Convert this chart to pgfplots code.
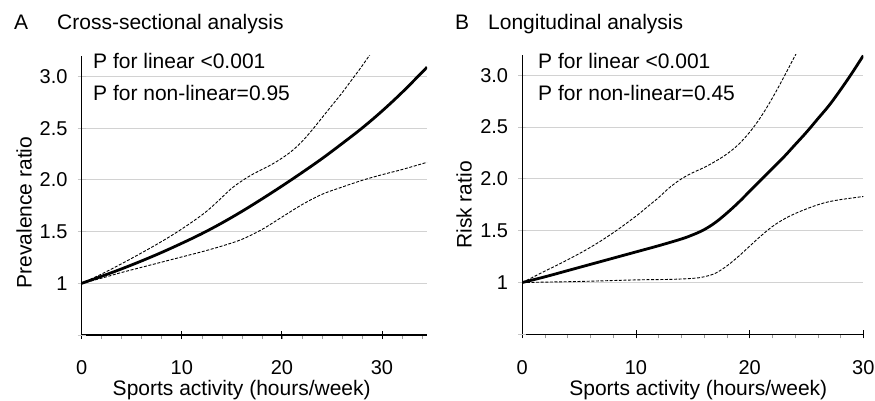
\documentclass[border=0pt]{standalone}
\usepackage{fontspec}
\setmainfont{Liberation Sans}
\usepackage{pgfplots}
\pgfplotsset{compat=1.18}
\pgfplotsset{
  myaxis/.style={
    scale only axis,
    anchor=south west,
    axis lines=left,
    axis line style={line width=1.2pt,-},
    ymin=0.5, ymax=3.2,
    ytick={1,1.5,2,2.5,3},
    yticklabels={1,1.5,2.0,2.5,3.0},
    extra y ticks={0.5}, extra y tick labels={},
    extra y tick style={grid=none},
    ymajorgrids,
    major grid style={gray!35,line width=0.9pt},
    tick align=center,
    major tick length=8pt, minor tick length=4pt,
    tick style={black,line width=0.8pt},
    major y tick style={gray!45},
    minor x tick style={yshift=-2pt, gray!80, line width=0.6pt},
    /pgf/number format/assume math mode=true,
    ticklabel style={font=\fontsize{20}{24}\selectfont},
    xticklabel style={anchor=base, inner sep=0pt, yshift=-35.7pt},
    yticklabel style={anchor=east, inner sep=0pt, xshift=-10pt},
  },
  est/.style={black, line width=2.8pt, smooth, tension=0.6},
  ci/.style={black, line width=0.9pt, dash pattern=on 3pt off 1.6pt, smooth, tension=0.6},
}
\begin{document}
\begin{tikzpicture}
\path[use as bounding box] (0,0) rectangle (875pt,400pt);
\begin{axis}[myaxis, at={(81.7pt,65pt)}, width=345.3pt, height=279.2pt,
  xmin=0, xmax=34.5, xtick={0,10,20,30}, minor xtick={2,4,...,34}]
\addplot[est] coordinates {(0,1.000) (2,1.068) (4,1.140) (6,1.217) (8,1.299) (10,1.387) (12,1.480) (14,1.583) (16,1.695) (18,1.815) (20,1.940) (22,2.070) (24,2.205) (26,2.350) (28,2.500) (30,2.665) (32,2.845) (34,3.040) (34.5,3.090)};
\addplot[ci] coordinates {(0,1.00) (2,1.09) (4,1.19) (6,1.295) (8,1.405) (10,1.525) (12,1.66) (13,1.74) (14,1.83) (15,1.92) (16,1.99) (17,2.05) (18,2.10) (19,2.15) (20,2.21) (21,2.28) (22,2.37) (23,2.48) (24,2.60) (25,2.72) (26,2.84) (27,2.97) (28,3.10) (29,3.24)};
\addplot[ci] coordinates {(0,1.00) (2,1.05) (4,1.105) (6,1.155) (8,1.205) (10,1.255) (12,1.305) (14,1.36) (16,1.425) (18,1.52) (20,1.64) (22,1.76) (24,1.86) (26,1.93) (28,1.995) (30,2.05) (32,2.10) (34.5,2.17)};
\end{axis}
\begin{axis}[myaxis, at={(522.3pt,65.7pt)}, width=341pt, height=279.8pt,
  xmin=0, xmax=30, xtick={0,10,20,30}, minor xtick={2,4,...,28}]
\addplot[est] coordinates {(0,1.000) (2,1.055) (4,1.115) (6,1.175) (8,1.235) (10,1.295) (12,1.355) (14,1.420) (15,1.460) (16,1.510) (17,1.580) (18,1.670) (19,1.770) (20,1.880) (21,1.990) (22,2.100) (23,2.210) (24,2.330) (25,2.450) (26,2.580) (27,2.710) (28,2.860) (29,3.020) (30,3.190)};
\addplot[ci] coordinates {(0,1.00) (2,1.11) (4,1.22) (6,1.34) (8,1.48) (10,1.64) (11,1.73) (12,1.82) (13,1.92) (14,2.00) (15,2.06) (16,2.11) (17,2.17) (18,2.24) (19,2.33) (20,2.45) (21,2.60) (22,2.78) (23,2.98) (24,3.19) (24.2,3.23)};
\addplot[ci] coordinates {(0,1.00) (5,1.01) (10,1.025) (13,1.03) (15,1.04) (16,1.055) (17,1.09) (18,1.16) (19,1.25) (20,1.35) (21,1.45) (22,1.54) (23,1.61) (24,1.665) (25,1.71) (26,1.75) (27,1.78) (28,1.80) (29,1.815) (30,1.83)};
\end{axis}
\tikzset{lab/.style={inner sep=0pt, font=\fontsize{21}{25}\selectfont}}
\node[lab, anchor=base west] at (14pt,370.7pt) {A};
\node[lab, anchor=base west] at (57pt,370.7pt) {Cross-sectional analysis};
\node[lab, anchor=base west] at (455pt,370.7pt) {B};
\node[lab, anchor=base west] at (488pt,370.7pt) {Longitudinal analysis};
\node[lab, anchor=base west] at (93pt,331.7pt) {P for linear <0.001};
\node[lab, anchor=base west] at (93pt,300pt) {P for non-linear=0.95};
\node[lab, anchor=base west] at (538pt,331.7pt) {P for linear <0.001};
\node[lab, anchor=base west] at (538pt,300pt) {P for non-linear=0.45};
\node[lab, anchor=base, rotate=90] at (31.7pt,187.5pt) {Prevalence ratio};
\node[lab, anchor=base, rotate=90] at (471.7pt,195pt) {Risk ratio};
\node[lab, anchor=base] at (241.7pt,5pt) {Sports activity (hours/week)};
\node[lab, anchor=base] at (698.3pt,5pt) {Sports activity (hours/week)};
\end{tikzpicture}
\end{document}
